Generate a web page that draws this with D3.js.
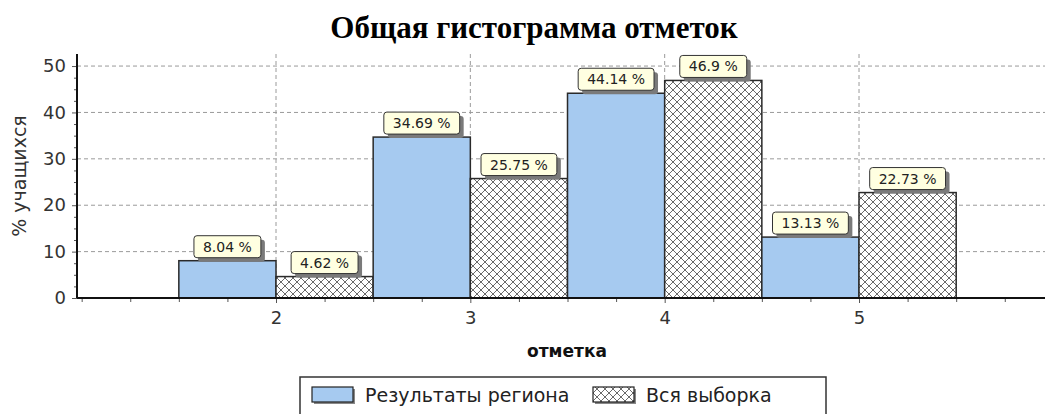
<!DOCTYPE html>
<html>
<head>
<meta charset="utf-8">
<script src="https://cdn.jsdelivr.net/npm/d3@7"></script>
<style>
  body { margin: 0; background: #fff; }
  svg { display: block; font-family: "DejaVu Sans", Verdana, sans-serif; }
</style>
</head>
<body>
<svg width="1045" height="414"></svg>
<script>
// data
var grades = [2, 3, 4, 5];
var regionValues = [8.04, 34.69, 44.14, 13.13];   // Результаты региона
var sampleValues = [4.62, 25.75, 46.9, 22.73];    // Вся выборка
var yTicks = [0, 10, 20, 30, 40, 50];
var seriesNames = ["Результаты региона", "Вся выборка"];

var W = 1045, H = 414;
var margin = {top: 54, right: 0, bottom: 116, left: 77};
var width = W - margin.left - margin.right;
var height = H - margin.top - margin.bottom;

var svg = d3.select("svg");

// hatch pattern for the second series
var defs = svg.append("defs");
var pat = defs.append("pattern")
    .attr("id", "hatch")
    .attr("patternUnits", "userSpaceOnUse")
    .attr("width", 8).attr("height", 8);
pat.append("rect").attr("width", 8).attr("height", 8).attr("fill", "#fff");
pat.append("path").attr("d", "M0,0 L8,8 M8,0 L0,8 M-1,7 L1,9 M7,-1 L9,1 M-1,1 L1,-1 M7,9 L9,7")
    .attr("stroke", "#6a6a6a").attr("stroke-width", 1);

var filt = defs.append("filter").attr("id", "soft")
filt.append("feGaussianBlur").attr("stdDeviation", 0.6);

var xScale = d3.scaleLinear()
    .domain([0.976, 5.957])
    .range([0, width]);

var yScale = d3.scaleLinear()
    .domain([0, 52.6])
    .range([height, 0]);

var g = svg.append("g")
    .attr("transform", "translate(" + margin.left + "," + margin.top + ")");

// title
svg.append("text")
    .attr("x", 534).attr("y", 38)
    .attr("text-anchor", "middle")
    .style("font-family", "'Liberation Serif', 'Times New Roman', serif")
    .style("font-weight", "bold")
    .style("font-size", "31px")
    .attr("fill", "#000")
    .text("Общая гистограмма отметок");

// grid lines
g.selectAll(".hgrid")
    .data(yTicks.filter(function(d) { return d > 0; }))
  .enter().append("line")
    .attr("x1", 0).attr("x2", width)
    .attr("y1", function(d) { return yScale(d); })
    .attr("y2", function(d) { return yScale(d); })
    .attr("stroke", "#9a9a9a").attr("stroke-dasharray", "4,3");

g.selectAll(".vgrid")
    .data(grades)
  .enter().append("line")
    .attr("x1", function(d) { return xScale(d); })
    .attr("x2", function(d) { return xScale(d); })
    .attr("y1", 0).attr("y2", height)
    .attr("stroke", "#9a9a9a").attr("stroke-dasharray", "4,3");

// bars
var barW = 0.5;
var bars = [];
grades.forEach(function(gr, i) {
  bars.push({grade: gr, x0: gr - barW, value: regionValues[i], s: 0});
  bars.push({grade: gr, x0: gr, value: sampleValues[i], s: 1});
});

g.selectAll(".bar")
    .data(bars)
  .enter().append("rect")
    .attr("x", function(d) { return xScale(d.x0); })
    .attr("y", function(d) { return yScale(d.value); })
    .attr("width", function(d) { return xScale(d.x0 + barW) - xScale(d.x0); })
    .attr("height", function(d) { return yScale(0) - yScale(d.value); })
    .attr("fill", function(d) { return d.s === 0 ? "#a6caf0" : "url(#hatch)"; })
    .attr("stroke", "#2a2a2a").attr("stroke-width", 1.5);

// value labels
var lab = g.selectAll(".lab")
    .data(bars)
  .enter().append("g")
    .attr("transform", function(d) {
      return "translate(" + xScale(d.x0 + barW / 2) + "," + (yScale(d.value) - 3) + ")";
    });

lab.each(function(d) {
  var el = d3.select(this);
  var txt = d.value + " %";
  var t = el.append("text")
      .attr("x", 0).attr("y", -6)
      .attr("text-anchor", "middle")
      .style("font-size", "14px")
      .attr("fill", "#222")
      .text(txt);
  var bw = t.node().getComputedTextLength() + 18, bh = 22;
  el.insert("rect", "text")
      .attr("x", -bw / 2 + 4).attr("y", -bh + 4)
      .attr("width", bw).attr("height", bh)
      .attr("rx", 3)
      .attr("fill", "#7a7a7a")
      .attr("filter", "url(#soft)");
  el.insert("rect", "text")
      .attr("x", -bw / 2).attr("y", -bh)
      .attr("width", bw).attr("height", bh)
      .attr("rx", 3)
      .attr("fill", "#ffffe1").attr("stroke", "#333").attr("stroke-width", 1);
});

// axes
var xMinor = d3.range(1, 6, 0.25).filter(function(d) { return grades.indexOf(d) < 0; });
g.append("g")
    .attr("transform", "translate(0," + height + ")")
    .call(d3.axisBottom(xScale).tickValues(xMinor).tickSize(4).tickFormat(""))
    .call(function(s) { s.select(".domain").remove(); s.selectAll("line").attr("stroke", "#555"); });

g.append("g")
    .attr("transform", "translate(0," + height + ")")
    .call(d3.axisBottom(xScale).tickValues(grades).tickSize(5).tickPadding(8).tickFormat(d3.format("d")))
    .call(function(s) {
      s.select(".domain").remove();
      s.selectAll("line").attr("stroke", "#555");
      s.selectAll("text").style("font-size", "18px").attr("fill", "#333")
          .style("font-family", "'DejaVu Sans', Verdana, sans-serif");
    });

var yMinor = d3.range(0, 52.5, 2.5).filter(function(d) { return yTicks.indexOf(d) < 0; });
g.append("g")
    .call(d3.axisLeft(yScale).tickValues(yMinor).tickSize(3).tickFormat(""))
    .call(function(s) { s.select(".domain").remove(); s.selectAll("line").attr("stroke", "#555"); });

g.append("g")
    .call(d3.axisLeft(yScale).tickValues(yTicks).tickSize(5).tickPadding(6))
    .call(function(s) {
      s.select(".domain").remove();
      s.selectAll("line").attr("stroke", "#555");
      s.selectAll("text").style("font-size", "18px").attr("fill", "#333")
          .style("font-family", "'DejaVu Sans', Verdana, sans-serif");
    });

g.append("line")
    .attr("x1", 0).attr("x2", width)
    .attr("y1", height).attr("y2", height)
    .attr("stroke", "#111").attr("stroke-width", 2);
g.append("line")
    .attr("x1", 0).attr("x2", 0)
    .attr("y1", 0).attr("y2", height)
    .attr("stroke", "#111").attr("stroke-width", 2);

// axis titles
svg.append("text")
    .attr("transform", "translate(26,176) rotate(-90)")
    .attr("text-anchor", "middle")
    .style("font-size", "19px")
    .attr("fill", "#333")
    .text("% учащихся");

svg.append("text")
    .attr("x", 567).attr("y", 357)
    .attr("text-anchor", "middle")
    .style("font-size", "17px")
    .style("font-weight", "bold")
    .attr("fill", "#111")
    .text("отметка");

// legend
var leg = svg.append("g").attr("transform", "translate(300,377)");
leg.append("rect")
    .attr("x", 0).attr("y", 0).attr("width", 526).attr("height", 40)
    .attr("fill", "#fff").attr("stroke", "#333").attr("stroke-width", 1.5);
var items = [
  {name: seriesNames[0], fill: "#a6caf0", x: 12},
  {name: seriesNames[1], fill: "url(#hatch)", x: 293}
];
var li = leg.selectAll(".li").data(items).enter().append("g")
    .attr("transform", function(d) { return "translate(" + d.x + ",0)"; });
li.append("rect")
    .attr("x", 2).attr("y", 12).attr("width", 41).attr("height", 15)
    .attr("fill", "#888");
li.append("rect")
    .attr("x", 0).attr("y", 10).attr("width", 41).attr("height", 15)
    .attr("fill", function(d) { return d.fill; })
    .attr("stroke", "#222").attr("stroke-width", 1.2);
li.append("text")
    .attr("x", 53).attr("y", 25)
    .style("font-size", "19px")
    .attr("fill", "#222")
    .text(function(d) { return d.name; });
</script>
</body>
</html>
